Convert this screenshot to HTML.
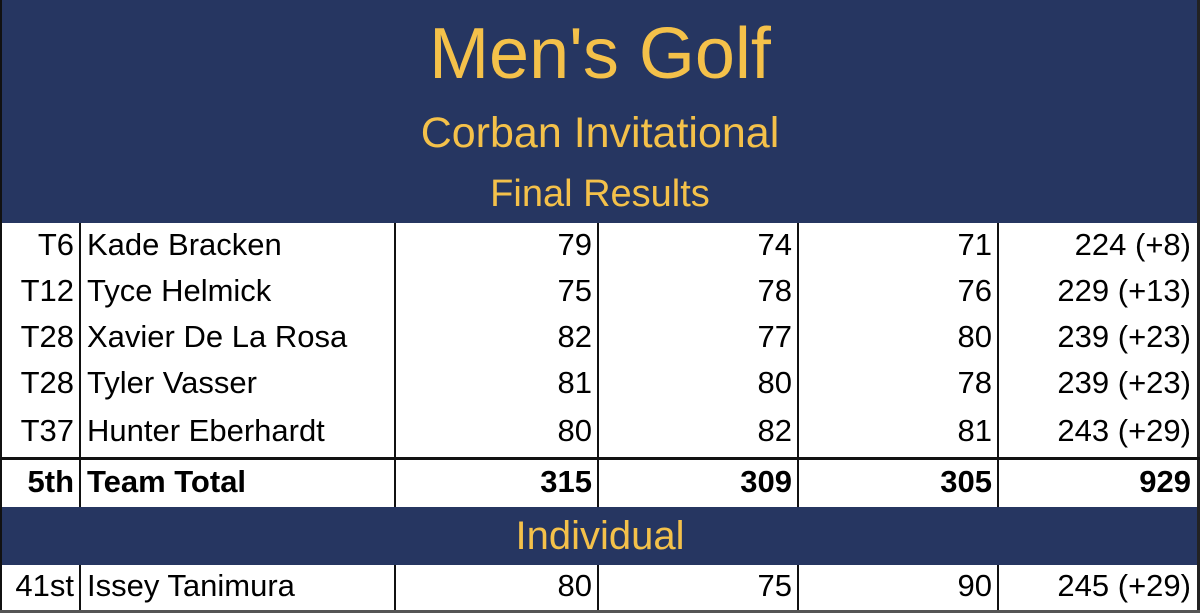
<!DOCTYPE html>
<html><head><meta charset="utf-8"><style>
body{margin:0;width:1200px;height:613px;overflow:hidden;background:#fff;font-family:"Liberation Sans",sans-serif}
.n{position:absolute;background:#263661;left:0;width:1200px}
.g{position:absolute;left:0;width:1200px;text-align:center;color:#f4c14a;white-space:nowrap}
.c{position:absolute;font-size:31px;color:#000;white-space:nowrap;line-height:46px}
.r{text-align:right}
.vl{position:absolute;width:2px;background:#111}
.hl{position:absolute;left:0;width:1200px;background:#111}
</style></head><body>
<div class="n" style="top:0;height:223px"></div>
<div class="g" style="top:12px;font-size:72px;line-height:84px">Men's Golf</div>
<div class="g" style="top:108px;font-size:43px;line-height:50px">Corban Invitational</div>
<div class="g" style="top:170px;font-size:38px;line-height:48px">Final Results</div>
<div class="n" style="top:507px;height:58px"></div>
<div class="g" style="top:512px;font-size:40px;line-height:48px">Individual</div>
<div id="t"></div>
<div class="vl" style="left:0;top:0;height:613px;background:#111"></div>
<div class="vl" style="left:1197px;top:0;width:3px;height:613px;background:#222"></div>
<div class="hl" style="top:610px;height:3px;background:#555"></div>
<div class="hl" style="top:457px;height:3px"></div>
<script>
const ranks=["T6","T12","T28","T28","T37","5th","41st"];
const names=["Kade Bracken","Tyce Helmick","Xavier De La Rosa","Tyler Vasser","Hunter Eberhardt","Team Total","Issey Tanimura"];
const r1=["79","75","82","81","80","315","80"];
const r2=["74","78","77","80","82","309","75"];
const r3=["71","76","80","78","81","305","90"];
const tot=["224 (+8)","229 (+13)","239 (+23)","239 (+23)","243 (+29)","929","245 (+29)"];
const tops=[223,270,316,362,408,460,565];
const hs=[47,46,46,46,49,47,45];
const cols=[[0,80],[80,395],[395,598],[598,798],[798,998],[998,1197]];
const t=document.getElementById('t');
function cell(txt,col,row,right,bold,name){
 const d=document.createElement('div');d.className='c'+(right?' r':'');
 const [a,b]=cols[col];
 d.style.left=(right?a:a+7)+'px';d.style.width=(right?b-a-6:b-a-7)+'px';
 d.style.top=(tops[row]-2)+'px';d.style.lineHeight=hs[row]+'px';
 if(bold)d.style.fontWeight='bold';
 d.textContent=txt;
 
 
 t.appendChild(d);
}
for(let i=0;i<ranks.length;i++){
 const b=i===5;
 cell(ranks[i],0,i,true,b,'rank-cell');
 cell(names[i],1,i,false,b,'player-name');
 cell(r1[i],2,i,true,b,'round1-score');
 cell(r2[i],3,i,true,b,'round2-score');
 cell(r3[i],4,i,true,b,'round3-score');
 cell(tot[i],5,i,true,b,'total-score');
 for(let c=1;c<6;c++){
  const v=document.createElement('div');v.className='vl';
  v.style.left=(cols[c][0]-1)+'px';v.style.top=tops[i]+'px';v.style.height=hs[i]+'px';
  
  
  t.appendChild(v);
 }
}
</script>
</body></html>
